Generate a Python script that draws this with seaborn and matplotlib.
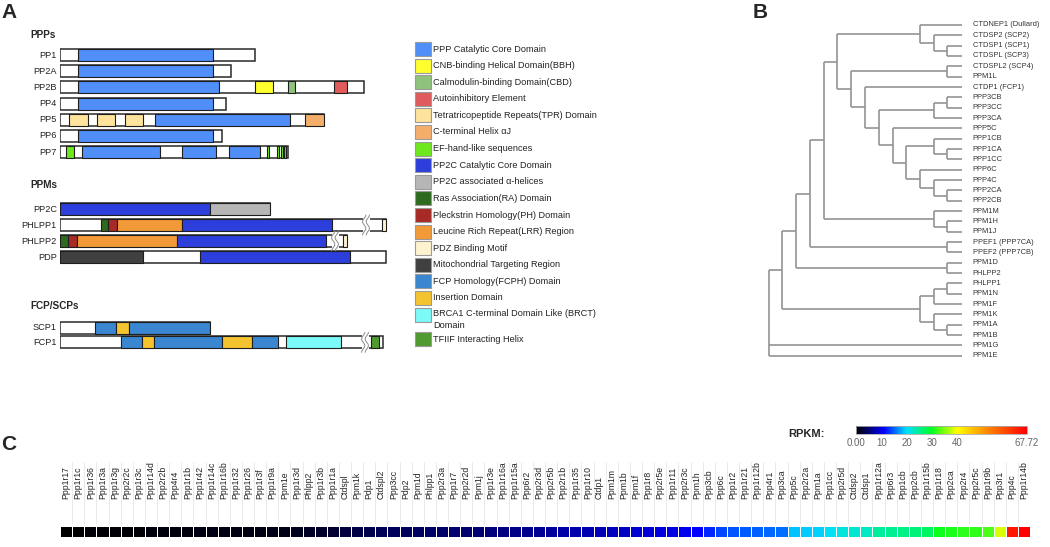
import matplotlib.pyplot as plt
import numpy as np
import pandas as pd
import seaborn as sns
from matplotlib.patches import Rectangle
from matplotlib.colors import LinearSegmentedColormap, Normalize
from matplotlib.cm import ScalarMappable

W, H = 1050, 547

# ---- panel A: domain architecture (positions in scaled length units) ----
DOMAIN_COLORS = {
    "PPP": "#4f8ff7", "CNB": "#ffff2e", "CBD": "#8fc27c", "AIE": "#e05c5c",
    "TPR": "#fde39c", "CTH": "#f4ae6a", "EF": "#6de81c", "PP2C": "#2c3fdc",
    "PP2CA": "#b6b6b6", "RA": "#2f6b1f", "PH": "#a82a26", "LRR": "#f29a38",
    "PDZ": "#fff3cf", "MTR": "#404040", "FCPH": "#3a86d0", "INS": "#f4c430",
    "BRCT": "#7cf9f9", "TFIIF": "#4f9b2f",
}
LEGEND_KEYS = ["PPP", "CNB", "CBD", "AIE", "TPR", "CTH", "EF", "PP2C", "PP2CA",
               "RA", "PH", "LRR", "PDZ", "MTR", "FCPH", "INS", "BRCT", "TFIIF"]
LEGEND_LABELS = [
    "PPP Catalytic Core Domain", "CNB-binding Helical Domain(BBH)",
    "Calmodulin-binding Domain(CBD)", "Autoinhibitory Element",
    "Tetratricopeptide Repeats(TPR) Domain", "C-terminal Helix \u03b1J",
    "EF-hand-like sequences", "PP2C Catalytic Core Domain",
    "PP2C associated \u03b1-helices", "Ras Association(RA) Domain",
    "Pleckstrin Homology(PH) Domain", "Leucine Rich Repeat(LRR) Region",
    "PDZ Binding Motif", "Mitochondrial Targeting Region",
    "FCP Homology(FCPH) Domain", "Insertion Domain",
    "BRCA1 C-terminal Domain Like (BRCT)\nDomain", "TFIIF Interacting Helix",
]

GROUP_TITLES = ["PPPs", "PPMs", "FCP/SCPs"]

PPP_NAMES = ["PP1", "PP2A", "PP2B", "PP4", "PP5", "PP6", "PP7"]
PPP_LENGTHS = [195, 171, 304, 166, 264, 162, 228]
PPP_DOMAINS = [
    [(18, 153, "PPP")],
    [(18, 153, "PPP")],
    [(18, 159, "PPP"), (195, 213, "CNB"), (228, 235, "CBD"), (274, 287, "AIE")],
    [(18, 153, "PPP")],
    [(9, 28, "TPR"), (37, 55, "TPR"), (65, 83, "TPR"), (95, 230, "PPP"), (245, 264, "CTH")],
    [(18, 153, "PPP")],
    [(6, 14, "EF"), (22, 100, "PPP"), (122, 156, "PPP"), (169, 200, "PPP"),
     (206.5, 208.5, "EF"), (217, 219, "EF"), (220.5, 222.5, "EF"), (224, 225.5, "EF")],
]

PPM_NAMES = ["PP2C", "PHLPP1", "PHLPP2", "PDP"]
PPM_LENGTHS = [210, 326, 287, 326]
PPM_DOMAINS = [
    [(0, 150, "PP2C"), (150, 210, "PP2CA")],
    [(41, 48, "RA"), (48, 57, "PH"), (57, 122, "LRR"), (122, 272, "PP2C"), (322, 325.5, "PDZ")],
    [(0, 8, "RA"), (8, 17, "PH"), (17, 117, "LRR"), (117, 266, "PP2C"), (283, 287, "PDZ")],
    [(0, 83, "MTR"), (140, 290, "PP2C")],
]

FCP_NAMES = ["SCP1", "FCP1"]
FCP_LENGTHS = [150, 323]
FCP_DOMAINS = [
    [(35, 56, "FCPH"), (56, 69, "INS"), (69, 150, "FCPH")],
    [(61, 82, "FCPH"), (82, 94, "INS"), (94, 162, "FCPH"), (162, 192, "INS"),
     (192, 218, "FCPH"), (226, 281, "BRCT"), (311, 319, "TFIIF")],
]

BREAKS = {"PHLPP1": 306, "PHLPP2": 275, "FCP1": 305}

# ---- panel B: tree, nodes are (merge height, children) ----
TREE = (193, [
    (180, [
        (166, [
            (152, [
                (138, [
                    (125, [
                        (42, ["CTDNEP1 (Dullard)",
                              (28, ["CTDSP2 (SCP2)",
                                    (15, ["CTDSP1 (SCP1)", "CTDSPL (SCP3)"])])]),
                        (111, [
                            (15, ["CTDSPL2 (SCP4)", "PPM1L"]),
                            (97, ["CTDP1 (FCP1)",
                                  (83, [
                                      (28, [(15, ["PPP3CB", "PPP3CC"]), "PPP3CA"]),
                                      (69, ["PPP5C",
                                            (56, [
                                                (28, ["PPP1CB", (15, ["PPP1CA", "PPP1CC"])]),
                                                (42, ["PPP6C",
                                                      (28, ["PPP4C", (15, ["PPP2CA", "PPP2CB"])])]),
                                            ])]),
                                  ])]),
                        ]),
                    ]),
                    (28, ["PPM1M", (15, ["PPM1H", "PPM1J"])]),
                ]),
                (15, ["PPEF1 (PPP7CA)", "PPEF2 (PPP7CB)"]),
            ]),
            (15, ["PPM1D", "PHLPP2"]),
        ]),
        (42, [
            (28, [(15, ["PHLPP1", "PPM1N"]), "PPM1F"]),
            (28, ["PPM1K", (15, ["PPM1A", "PPM1B"])]),
        ]),
    ]),
    "PPM1G",
    "PPM1E",
])

# ---- panel C: expression ----
GENE_NAMES = [
    "Ppp1r17", "Ppp1r1c", "Ppp1r36", "Ppp1r3a", "Ppp1r3g", "Ppp2r2c", "Ppp1r3c",
    "Ppp1r14d", "Ppp2r2b", "Ppp4r4", "Ppp1r1b", "Ppp1r42", "Ppp1r14c", "Ppp1r16b",
    "Ppp1r32", "Ppp1r26", "Ppp1r3f", "Ppp1r9a", "Ppm1e", "Ppp1r3d", "Phlpp2",
    "Ppp1r3b", "Ppp1r1a", "Ctdspl", "Ppm1k", "Pdp1", "Ctdspl2", "Ppp3cc", "Pdp2",
    "Ppm1d", "Phlpp1", "Ppp2r3a", "Ppp1r7", "Ppp2r2d", "Ppm1j", "Ppp1r3e",
    "Ppp1r16a", "Ppp1r15a", "Ppp6r2", "Ppp2r3d", "Ppp2r5b", "Ppp2r1b", "Ppp1r35",
    "Ppp1r10", "Ctdp1", "Ppm1m", "Ppm1b", "Ppm1f", "Ppp1r8", "Ppp2r5e", "Ppp1r11",
    "Ppp2r3c", "Ppm1h", "Ppp3cb", "Ppp6c", "Ppp1r2", "Ppp1r21", "Ppp1r12b",
    "Ppp4r1", "Ppp3ca", "Ppp5c", "Ppp2r2a", "Ppm1a", "Ppp1cc", "Ppp2r5d", "Ctdsp2",
    "Ctdsp1", "Ppp1r12a", "Ppp6r3", "Ppp1cb", "Ppp2cb", "Ppp1r15b", "Ppp1r18",
    "Ppp2ca", "Ppp2r4", "Ppp2r5c", "Ppp1r9b", "Ppp3r1", "Ppp4c", "Ppp1r14b",
]
RPKM_VALUES = [
    0.1, 0.2, 0.3, 0.3, 0.4, 0.5, 0.5, 0.6, 0.6, 0.7, 0.7, 0.8, 0.8, 0.9,
    0.9, 1.0, 1.0, 1.1, 1.2, 1.4, 1.8, 2.0, 2.2, 2.8, 3.0, 3.4, 3.8, 4.0,
    4.2, 4.4, 4.5, 4.6, 4.8, 5.0, 5.2, 5.4, 5.6, 6.0, 6.2, 6.5, 6.8, 7.2,
    7.5, 7.8, 8.0, 8.4, 8.7, 9.0, 9.3, 9.6, 10.0, 10.5, 11.0, 12.5, 14.0,
    14.5, 14.8, 15.0, 15.3, 15.6, 18.8, 19.2, 19.5, 20.5, 21.5, 22.0, 22.5,
    24.5, 25.0, 25.5, 26.0, 27.0, 30.5, 31.0, 31.5, 32.0, 33.0, 38.5, 65.0, 67.72,
]
RPKM_MAX = 67.72
CBAR_TICKS = [0, 10, 20, 30, 40, RPKM_MAX]
CBAR_LABELS = ["0.00", "10", "20", "30", "40", "67.72"]
CMAP_STOPS = [0, 11, 20, 30, 40, 52, RPKM_MAX]
CMAP_COLORS = ["#000000", "#0000ff", "#00e0ff", "#00ff20", "#ffff00", "#ff8800", "#ff0000"]


def px_axes(fig, left, top, width, height):
    return fig.add_axes([left / W, 1 - (top + height) / H, width / W, height / H])


def draw_break(ax, x, y, h):
    ax.add_patch(Rectangle((x - 3.5, y - h / 2 - 1.5), 7, h + 3,
                           facecolor="white", edgecolor="none", zorder=5))
    t = np.linspace(-1, 1, 50)
    for dx in (-1.8, 1.8):
        ax.plot(x + dx + 1.6 * np.sin(t * np.pi * 1.5), y + t * (h / 2 + 4),
                color="#8a8a8a", lw=0.7, zorder=6)


def draw_group(ax, title, title_y, names, lengths, domains, first_y, step, bar_h=12):
    ax.text(-30, title_y, title, fontsize=7.2, fontweight="bold", va="center", ha="left")
    for i, (name, length, doms) in enumerate(zip(names, lengths, domains)):
        y = first_y + i * step
        ax.barh(y, length, left=0, height=bar_h, color="white",
                edgecolor="#2a2a2a", linewidth=1.1, zorder=2)
        for start, end, key in doms:
            ax.barh(y, end - start, left=start, height=bar_h, color=DOMAIN_COLORS[key],
                    edgecolor="#1e1e1e", linewidth=0.8, zorder=3)
        if name in BREAKS:
            draw_break(ax, BREAKS[name], y, bar_h)
        ax.text(-3, y, name, fontsize=6.6, ha="right", va="center", color="#222222")


def draw_tree(ax, node, leaves):
    if isinstance(node, str):
        leaves.append(node)
        return len(leaves) - 1, 0.0
    height, children = node
    pts = [draw_tree(ax, child, leaves) for child in children]
    ys = [p[0] for p in pts]
    for y, child_h in pts:
        ax.plot([child_h, height], [y, y], color="#939393", lw=1.2, solid_capstyle="butt")
    ax.plot([height, height], [min(ys), max(ys)], color="#939393", lw=1.2, solid_capstyle="butt")
    return (min(ys) + max(ys)) / 2, height


sns.set_theme(style="white")
plt.rcParams["font.family"] = ["Liberation Sans", "DejaVu Sans"]

fig = plt.figure(figsize=(W / 100, H / 100), dpi=100)

# ---- panel A ----
ax_a = px_axes(fig, 60, 0, 340, 370)
ax_a.set_xlim(0, 340)
ax_a.set_ylim(370, 0)
ax_a.axis("off")
draw_group(ax_a, GROUP_TITLES[0], 35, PPP_NAMES, PPP_LENGTHS, PPP_DOMAINS, 55, 16.2)
draw_group(ax_a, GROUP_TITLES[1], 185, PPM_NAMES, PPM_LENGTHS, PPM_DOMAINS, 209, 16.0)
draw_group(ax_a, GROUP_TITLES[2], 306, FCP_NAMES, FCP_LENGTHS, FCP_DOMAINS, 327.7, 14.6)

ax_leg = px_axes(fig, 400, 0, 330, 370)
ax_leg.set_xlim(400, 730)
ax_leg.set_ylim(370, 0)
ax_leg.axis("off")
for i, (key, label) in enumerate(zip(LEGEND_KEYS, LEGEND_LABELS)):
    y = 49 + 16.6 * i + (8 if i == len(LEGEND_KEYS) - 1 else 0)
    ax_leg.add_patch(Rectangle((415, y - 7), 15.5, 14, facecolor=DOMAIN_COLORS[key],
                               edgecolor="#9a9a9a", linewidth=0.8))
    ty = y + 5 if "\n" in label else y
    ax_leg.text(433, ty, label, fontsize=6.6, va="center", ha="left",
                color="#222222", linespacing=1.35)

# ---- panel B ----
ax_b = px_axes(fig, 760, 19.8, 201.7, 341.2)
leaves = []
draw_tree(ax_b, TREE, leaves)
ax_b.set_xlim(201.7, 0)
ax_b.set_ylim(len(leaves) - 0.5, -0.5)
ax_b.axis("off")
for i, name in enumerate(leaves):
    ax_b.text(-11, i, name, fontsize=5.4, va="center", ha="left", color="#333333")

# ---- panel C ----
cmap = LinearSegmentedColormap.from_list(
    "rpkm", list(zip(np.array(CMAP_STOPS) / RPKM_MAX, CMAP_COLORS)))
norm = Normalize(0, RPKM_MAX)

ax_grid = px_axes(fig, 60, 462, 970, 62)
ax_grid.set_xlim(0, len(GENE_NAMES))
ax_grid.vlines(np.arange(1, len(GENE_NAMES)), 0, 1, color="#e6e6e6", lw=0.6)
ax_grid.set_ylim(0, 1)
ax_grid.axis("off")
ax_grid.set_zorder(-1)

ax_c = px_axes(fig, 60, 525.7, 970, 11)
expr = pd.DataFrame([RPKM_VALUES], columns=GENE_NAMES)
sns.heatmap(expr, ax=ax_c, cmap=cmap, vmin=0, vmax=RPKM_MAX, cbar=False,
            linewidths=0.7, linecolor="white", xticklabels=GENE_NAMES, yticklabels=False)
ax_c.xaxis.tick_top()
ax_c.tick_params(axis="x", length=0, pad=19, labelsize=6.2, labelcolor="#222222")
plt.setp(ax_c.get_xticklabels(), rotation=90, ha="center", va="bottom")
ax_c.set_xlabel("")
ax_c.set_ylabel("")

cax = px_axes(fig, 856, 425.7, 171, 8.6)
cb = fig.colorbar(ScalarMappable(norm=norm, cmap=cmap), cax=cax, orientation="horizontal")
cb.set_ticks(CBAR_TICKS)
cb.set_ticklabels(CBAR_LABELS)
cb.ax.tick_params(length=0, pad=2.5, labelsize=7, labelcolor="#666666")
cb.outline.set_edgecolor("#aaaaaa")
cb.outline.set_linewidth(0.6)

fig.text(788 / W, 1 - 434 / H, "RPKM:", fontsize=8, fontweight="bold", va="center")

fig.text(1 / W, 1 - 13 / H, "A", fontsize=15, fontweight="bold", va="center")
fig.text(753 / W, 1 - 12 / H, "B", fontsize=15, fontweight="bold", va="center")
fig.text(1 / W, 1 - 445 / H, "C", fontsize=15, fontweight="bold", va="center")

fig.savefig("out.png", dpi=100)
plt.close(fig)
